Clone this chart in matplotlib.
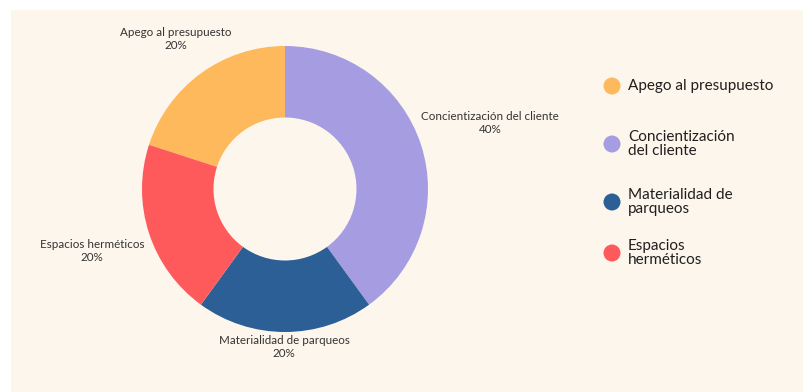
import matplotlib
matplotlib.use("Agg")
import matplotlib.pyplot as plt
from matplotlib.patches import Rectangle
import numpy as np

categories = ["Apego al presupuesto", "Concientización del cliente",
              "Materialidad de parqueos", "Espacios herméticos"]
legend_labels = ["Apego al presupuesto", "Concientización\ndel cliente",
                 "Materialidad de\nparqueos", "Espacios\nherméticos"]
values = [20, 40, 20, 20]
colors = ["#FDB95B", "#A69CE1", "#2D5F97", "#FF5A5B"]

W, H = 804, 392
fig = plt.figure(figsize=(W / 100, H / 100), dpi=100)
fig.patch.set_facecolor("white")
ax = fig.add_axes([0, 0, 1, 1])
ax.set_xlim(0, W)
ax.set_ylim(0, H)
ax.set_aspect("equal")
ax.axis("off")

bg = "#FDF6EC"
ax.add_patch(Rectangle((11, 0), W - 11, H - 10, facecolor=bg, edgecolor="none", zorder=0))

cx, cy, R = 285, H - 189, 143
total = sum(values)
start = 90 + 360 * values[0] / total
wedges, _ = ax.pie(values, colors=colors, startangle=start, counterclock=False,
                   center=(cx, cy), radius=R, frame=True,
                   wedgeprops=dict(width=R * 0.5, edgecolor="none"))
ax.set_xlim(0, W)
ax.set_ylim(0, H)
ax.axis("off")

font = ["Lato", "DejaVu Sans"]
# label text centres (pixel coords from top), same order as categories
label_pos = [(176, 39), (490, 123), (284, 347), (92, 251)]
for cat, v, (lx, ly) in zip(categories, values, label_pos):
    ax.text(lx, H - ly, f"{cat}\n{v}%", ha="center", va="center",
            fontsize=8.4, color="#333333", family=font, linespacing=1.2, zorder=5)

# legend
leg_y = [86, 144, 202, 253]
for lab, col, y in zip(legend_labels, colors, leg_y):
    ax.scatter([612], [H - y], s=150, color=col, edgecolors="none", zorder=5, clip_on=False)
    ax.text(628, H - y, lab, ha="left", va="center", fontsize=11,
            color="#1f1f1f", family=font, linespacing=1.0, zorder=5)

fig.savefig("out.png", dpi=100, facecolor="white")
